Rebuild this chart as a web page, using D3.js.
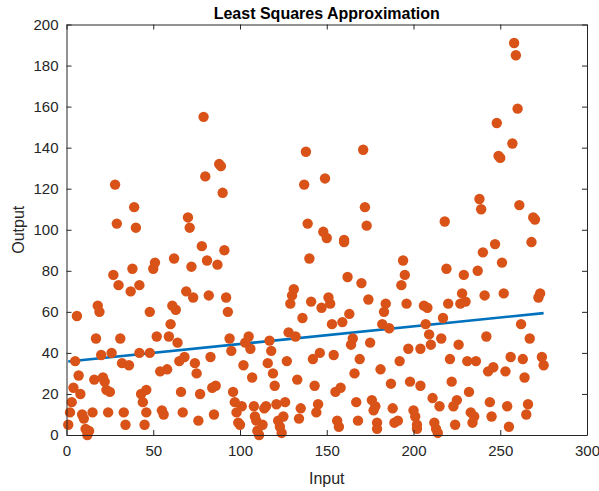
<!DOCTYPE html>
<html>
<head>
<meta charset="utf-8">
<script src="https://cdn.jsdelivr.net/npm/d3@7"></script>
<style>
  body { margin: 0; background: #fff; }
  text { font-family: "Liberation Sans", Arial, Helvetica, sans-serif; }
</style>
</head>
<body>
<svg id="chart" width="599" height="491"></svg>
<script>
// observed samples [input, output]
const samples = [
  [1,5],[2,11],[3,16],[4,23],[5,36],[6,58],[7,29],[8,20],[9,10],[10,8],
  [11,3],[12,0],[13,2],[15,11],[16,27],[17,47],[18,63],[19,60],[20,39],[21,28],
  [22,26],[23,22],[24,11],[25,21],[26,40],[27,78],[28,122],[29,103],[30,73],[31,47],
  [32,35],[33,11],[34,5],[36,34],[37,70],[38,81],[39,111],[40,101],[42,73],[42,40],
  [43,20],[44,16],[45,5],[46,11],[46,22],[48,40],[48,60],
  [79,155],[88,132],[89,131],[80,126],[90,118],[70,106],[71,101],[78,92],[91,90],[51,84],
  [50,81],[62,86],[72,82],[81,85],[87,83],[69,70],[73,67],[82,68],[92,67],[93,60],
  [61,63],[63,61],[60,54],[52,48],[59,48],[64,45],[94,47],[95,41],[83,38],[65,36],
  [68,38],[74,35],[75,30],[54,31],[58,32],[66,21],[77,20],[84,23],[86,24],[96,21],
  [97,16],[55,12],[56,10],[67,11],[85,10],[76,7],[98,11],[99,6],
  [138,138],[149,125],[137,122],[139,103],[148,99],[150,96],[140,86],[131,71],[130,68],[129,64],
  [141,65],[147,62],[151,67],[152,64],[136,57],[105,48],[103,45],[106,42],[117,46],[128,50],
  [132,48],[118,41],[146,40],[142,37],[102,34],[116,35],[127,36],[119,30],[107,28],[133,27],
  [120,24],[143,24],[101,14],[108,14],[114,13],[115,14],[121,15],[126,16],[135,13],[145,15],
  [144,11],[134,8],[100,5],[108.6,9],[109.4,7],[110,2],[111,0],[113,5],[122,7],[123,4],
  [124,1],[125,9],
  [171,139],[172,111],[173,102],[160,95],[160,94],[194,85],[195,78],[193,73],[162,77],[170,74],
  [174,66],[163,59],[184,64],[183,60],[196,64],[153,54],[159,55],[182,54],[186,52],[165,47],
  [164,44],[175,45],[197,42],[204,42],[154,39],[169,37],[192,36],[166,30],[181,32],[187,25],
  [198,26],[204,24],[155,21],[158,23],[167,16],[176,17],[177,12],[178,14],[188,13],[200,12],
  [201,9],[156,7],[157,4],[168,7],[179,6],[179,3],[189,6],[191,7],[202,5],[202,3],
  [248,152],[249,136],[250,135],[238,115],[239,110],[218,104],[247,93],[240,89],[251,84],[219,81],
  [229,78],[237,80],[228,69],[252,69],[241,68],[206,63],[208,62],[220,64],[227,64],[230,65],
  [217,57],[207,54],[209,49],[216,47],[242,48],[210,44],[226,44],[221,37],[231,36],[236,36],
  [243,31],[246,33],[253,31],[222,26],[211,18],[232,21],[225,17],[223,14],[244,16],[254,14],
  [215,14],[233,11],[235,9],[234,6],[245,9],[212,6],[213,3],[214,1],[224,5],[255,4],
  [258,191],[259,185],[260,159],[257,142],[261,112],[269,106],[270,105],[268,94],[273,69],[272,67],
  [262,54],[267,47],[256,38],[263,37],[274,38],[275,34],[264,28],[266,15],[265,10]
];

// fitted line end points
const fitLine = [[1, 35.8], [275, 59.4]];

const xTicks = [0, 50, 100, 150, 200, 250, 300];
const yTicks = [0, 20, 40, 60, 80, 100, 120, 140, 160, 180, 200];

const svg = d3.select("#chart");
const plotLeft = 66.5, plotRight = 587, plotTop = 24.5, plotBottom = 435;

const x = d3.scaleLinear().domain([0, 300]).range([plotLeft, plotRight]);
const y = d3.scaleLinear().domain([0, 200]).range([plotBottom, plotTop]);

const axisColor = "#262626";
const tickLen = 5;

// fitted line (under the markers)
svg.append("path")
  .datum(fitLine)
  .attr("d", d3.line().x((d) => x(d[0])).y((d) => y(d[1])))
  .attr("fill", "none")
  .attr("stroke", "#0072BD")
  .attr("stroke-width", 2.6);

svg.append("g")
  .selectAll("circle")
  .data(samples)
  .enter()
  .append("circle")
  .attr("cx", (d) => x(d[0]))
  .attr("cy", (d) => y(d[1]))
  .attr("r", 5.2)
  .attr("fill", "#D95319");

// axes, MATLAB style: box with inward ticks
const bottomAxis = d3.axisBottom(x).tickValues(xTicks).tickSizeInner(-tickLen).tickSizeOuter(0).tickPadding(10);
const leftAxis = d3.axisLeft(y).tickValues(yTicks).tickSizeInner(-tickLen).tickSizeOuter(0).tickPadding(8);
const topAxis = d3.axisTop(x).tickValues(xTicks).tickSizeInner(-tickLen).tickSizeOuter(0).tickFormat("");
const rightAxis = d3.axisRight(y).tickValues(yTicks).tickSizeInner(-tickLen).tickSizeOuter(0).tickFormat("");

const gx = svg.append("g").attr("transform", `translate(0,${plotBottom})`).call(bottomAxis);
const gy = svg.append("g").attr("transform", `translate(${plotLeft},0)`).call(leftAxis);
const gt = svg.append("g").attr("transform", `translate(0,${plotTop})`).call(topAxis);
const gr = svg.append("g").attr("transform", `translate(${plotRight},0)`).call(rightAxis);

[gx, gy, gt, gr].forEach((g) => {
  g.select(".domain").attr("stroke", axisColor).attr("stroke-width", 1);
  g.selectAll(".tick line").attr("stroke", axisColor).attr("stroke-width", 1);
  g.selectAll(".tick text")
    .attr("fill", axisColor)
    .style("font-size", "15px")
    .style("font-family", "'Liberation Sans', Arial, sans-serif");
});

svg.append("text")
  .attr("x", (plotLeft + plotRight) / 2)
  .attr("y", 18.5)
  .attr("text-anchor", "middle")
  .style("font-size", "16px")
  .style("font-weight", "bold")
  .attr("fill", "#000")
  .text("Least Squares Approximation");

svg.append("text")
  .attr("x", (plotLeft + plotRight) / 2)
  .attr("y", 484)
  .attr("text-anchor", "middle")
  .style("font-size", "16px")
  .attr("fill", axisColor)
  .text("Input");

svg.append("text")
  .attr("transform", `translate(24,${(plotTop + plotBottom) / 2}) rotate(-90)`)
  .attr("text-anchor", "middle")
  .style("font-size", "16px")
  .attr("fill", axisColor)
  .text("Output");
</script>
</body>
</html>
